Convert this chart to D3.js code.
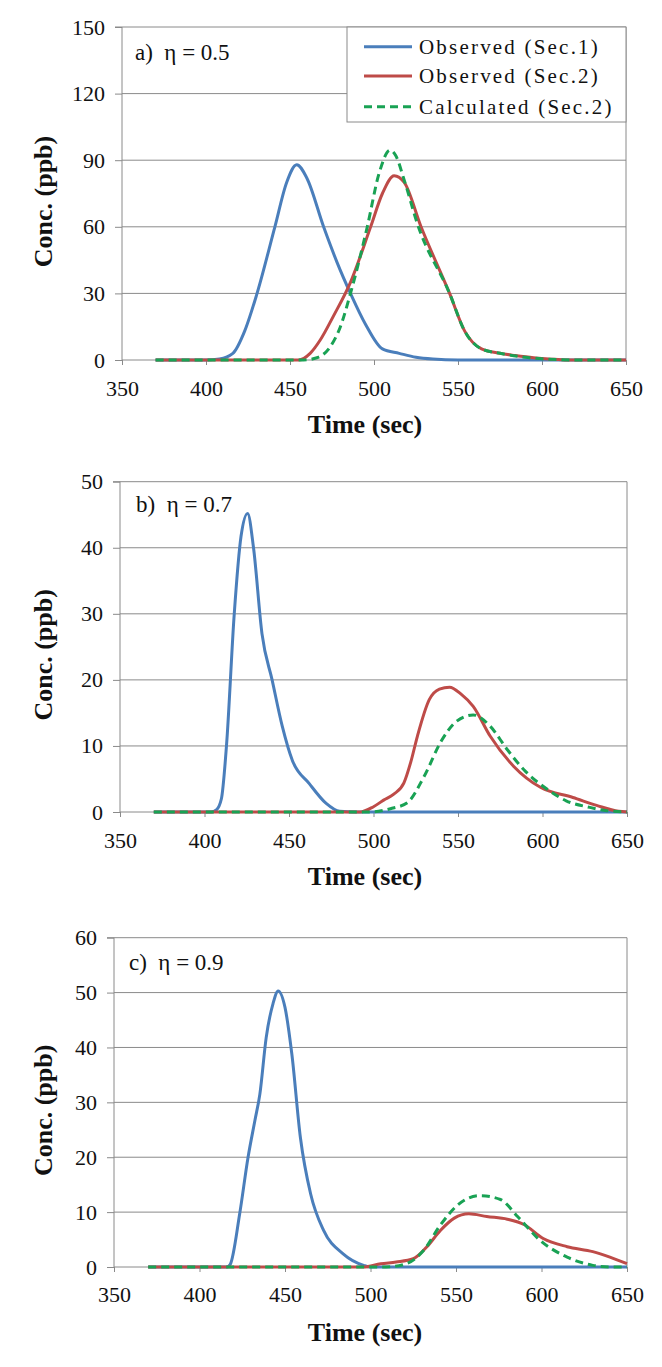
<!DOCTYPE html>
<html><head><meta charset="utf-8">
<script src="https://cdn.jsdelivr.net/npm/d3@7"></script>
<style>body{margin:0;background:#fff}svg{display:block}</style>
</head><body>
<svg id="chart" width="662" height="1367"></svg>
<script>
// ---------- data ----------
const xTicks = [350, 400, 450, 500, 550, 600, 650];
const yTicksA = [0, 30, 60, 90, 120, 150];
const yTicksB = [0, 10, 20, 30, 40, 50];
const yTicksC = [0, 10, 20, 30, 40, 50, 60];
const seriesNames = ["Observed (Sec.1)", "Observed (Sec.2)", "Calculated (Sec.2)"];
const panelLabels = ["a)  \u03b7 = 0.5", "b)  \u03b7 = 0.7", "c)  \u03b7 = 0.9"];
const xTitle = "Time (sec)";
const yTitle = "Conc. (ppb)";

// panel a (time sec, conc ppb)
const obs1A = [[370,0],[400,0],[408,0.5],[416,3],[423,13],[430,29],[441,60],[448,80],[454,88],[460,82],[470,60],[478,44],[486,30],[495,16],[505,5],[515,3],[525,1.2],[535,0.4],[550,0],[650,0]];
const obs2A = [[370,0],[455,0],[462,3],[468,9],[476,20],[486,35],[498,60],[505,75],[512,83],[518,80],[528,60],[545,30],[554,13],[564,5],[575,3],[584,2],[595,1],[604,0.5],[615,0],[650,0]];
const calcA = [[370,0],[458,0],[466,1],[474,6],[480,15],[486,30],[496,60],[503,84],[509.5,94.5],[513,92],[518,81],[526,61],[545,30],[554,13],[564,5],[575,3],[590,1.2],[605,0.3],[620,0],[650,0]];
// panel b
const obs1B = [[370,0],[404,0],[407,0.3],[410,2],[413,10],[417.6,30],[421.6,41.7],[425.5,45.2],[429,40],[434,27],[440,20],[446,13],[452,7.8],[462,4.3],[472,1.3],[480,0.1],[490,0],[650,0]];
const obs2B = [[370,0],[492,0],[500,0.8],[506,1.8],[512,2.7],[518,4.4],[522,7.5],[526,11.5],[533,17],[539,18.6],[545,18.9],[552,17.8],[559,16],[569,11.5],[583,6.9],[599,3.7],[618,2.2],[632,1],[645,0.1],[650,0]];
const calcB = [[370,0],[498,0],[510,0.5],[520,1.4],[530,5.4],[540,10.7],[549,13.7],[559,14.7],[569,13],[579,9.5],[589,6.4],[603,3.4],[614,1.7],[628,0.7],[638,0.2],[650,0]];
// panel c
const obs1C = [[370,0],[416,0],[418,0.5],[423.5,9.7],[428.4,20],[432.4,26.7],[435.3,31.5],[439,41.8],[443,48],[446,50.3],[450,47.3],[454,38.8],[459,23.6],[465,13.3],[472.5,6.7],[484,2.4],[496,0.3],[500,0],[650,0]];
const obs2C = [[370,0],[496,0],[506,0.6],[515,0.9],[525,1.5],[533,3.7],[541,6.7],[549,8.9],[557.5,9.7],[568,9.2],[580,8.7],[590,7.7],[601,5.2],[615,3.7],[630,2.8],[640,1.8],[650,0.6]];
const calcC = [[370,0],[509,0],[521,0.6],[531,3],[541,7.7],[551,11.3],[564,13],[576,12.3],[586,9.2],[599,4.9],[615,1.8],[630,0.3],[640,0],[650,0]];

// ---------- layout / style ----------
const colors = ["#4a7ebb", "#be4b48", "#19a254"];
const panels = [
  {label: panelLabels[0], yTicks: yTicksA, series: [obs1A, obs2A, calcA], box: {l:122, r:626, t:27, b:360}, legend: true, labelPos: [135, 60], xLabY: 396, xTitleY: 433},
  {label: panelLabels[1], yTicks: yTicksB, series: [obs1B, obs2B, calcB], box: {l:120, r:627, t:481.7, b:812}, legend: false, labelPos: [136, 512], xLabY: 848, xTitleY: 885},
  {label: panelLabels[2], yTicks: yTicksC, series: [obs1C, obs2C, calcC], box: {l:114, r:627, t:937.7, b:1267}, legend: false, labelPos: [129, 970], xLabY: 1302, xTitleY: 1341}
];

const svg = d3.select("#chart");
const serif = "'Liberation Serif','Times New Roman',serif";
const grid = "#8a8a8a";

panels.forEach(p => {
  const B = p.box;
  const x = d3.scaleLinear().domain([xTicks[0], xTicks[xTicks.length-1]]).range([B.l, B.r]);
  const yMax = p.yTicks[p.yTicks.length-1];
  const y = d3.scaleLinear().domain([0, yMax]).range([B.b, B.t]);
  const g = svg.append("g");

  // gridlines
  g.selectAll("line.grid").data(p.yTicks.filter(v => v > 0)).join("line")
    .attr("x1", B.l).attr("x2", B.r).attr("y1", d => y(d)).attr("y2", d => y(d))
    .attr("stroke", grid).attr("stroke-width", 1);
  // right border
  g.append("line").attr("x1", B.r).attr("x2", B.r).attr("y1", B.t).attr("y2", B.b)
    .attr("stroke", grid).attr("stroke-width", 1);

  // y axis
  const yAxis = d3.axisLeft(y).tickValues(p.yTicks).tickSize(7).tickPadding(10).tickFormat(d3.format("d"));
  const ya = g.append("g").attr("transform", `translate(${B.l},0)`).call(yAxis);
  ya.select(".domain").attr("stroke", grid).attr("d", `M0,${B.t}V${B.b}M-7,${B.t}H0`);
  ya.selectAll(".tick line").attr("stroke", grid);
  ya.selectAll(".tick text").attr("font-family", serif).attr("font-size", 22).attr("fill", "#111");

  // x axis
  const xAxis = d3.axisBottom(x).tickValues(xTicks).tickSize(5).tickPadding(4).tickFormat(d3.format("d"));
  const xa = g.append("g").attr("transform", `translate(0,${B.b})`).call(xAxis);
  xa.select(".domain").attr("stroke", grid).attr("d", `M${B.l},0H${B.r}`);
  xa.selectAll(".tick line").attr("stroke", grid);
  xa.selectAll(".tick text").attr("font-family", serif).attr("font-size", 22).attr("fill", "#111")
    .attr("dy", null).attr("y", p.xLabY - B.b);

  // lines
  const line = d3.line().x(d => x(d[0])).y(d => y(d[1])).curve(d3.curveMonotoneX);
  p.series.forEach((s, i) => {
    g.append("path").datum(s).attr("d", line).attr("fill", "none")
      .attr("stroke", colors[i]).attr("stroke-width", 3)
      .attr("stroke-linejoin", "round")
      .attr("stroke-dasharray", i === 2 ? "8,5" : null);
  });

  // panel label
  g.append("text").attr("x", p.labelPos[0]).attr("y", p.labelPos[1])
    .attr("font-family", serif).attr("font-size", 23).attr("fill", "#111")
    .attr("xml:space", "preserve").style("white-space", "pre").text(p.label);

  // axis titles
  g.append("text").attr("x", 365).attr("y", p.xTitleY).attr("text-anchor", "middle")
    .attr("font-family", serif).attr("font-weight", "bold").attr("font-size", 26).attr("fill", "#111")
    .text(xTitle);
  g.append("text").attr("transform", `translate(52,${(B.t + B.b) / 2 + 8}) rotate(-90)`)
    .attr("text-anchor", "middle")
    .attr("font-family", serif).attr("font-weight", "bold").attr("font-size", 26).attr("fill", "#111")
    .text(yTitle);

  // legend
  if (p.legend) {
    const lg = g.append("g");
    lg.append("rect").attr("x", 347).attr("y", B.t).attr("width", B.r - 347).attr("height", 95)
      .attr("fill", "#fff").attr("stroke", grid).attr("stroke-width", 1);
    const rows = [46.7, 76, 106.7];
    seriesNames.forEach((n, i) => {
      lg.append("line").attr("x1", 364).attr("x2", 412).attr("y1", rows[i]).attr("y2", rows[i])
        .attr("stroke", colors[i]).attr("stroke-width", 3)
        .attr("stroke-dasharray", i === 2 ? "8,5" : null);
      lg.append("text").attr("x", 419).attr("y", rows[i] + 7)
        .attr("font-family", serif).attr("font-size", 21).attr("letter-spacing", 2.2).attr("fill", "#111")
        .text(n);
    });
  }
});
</script>
</body></html>
